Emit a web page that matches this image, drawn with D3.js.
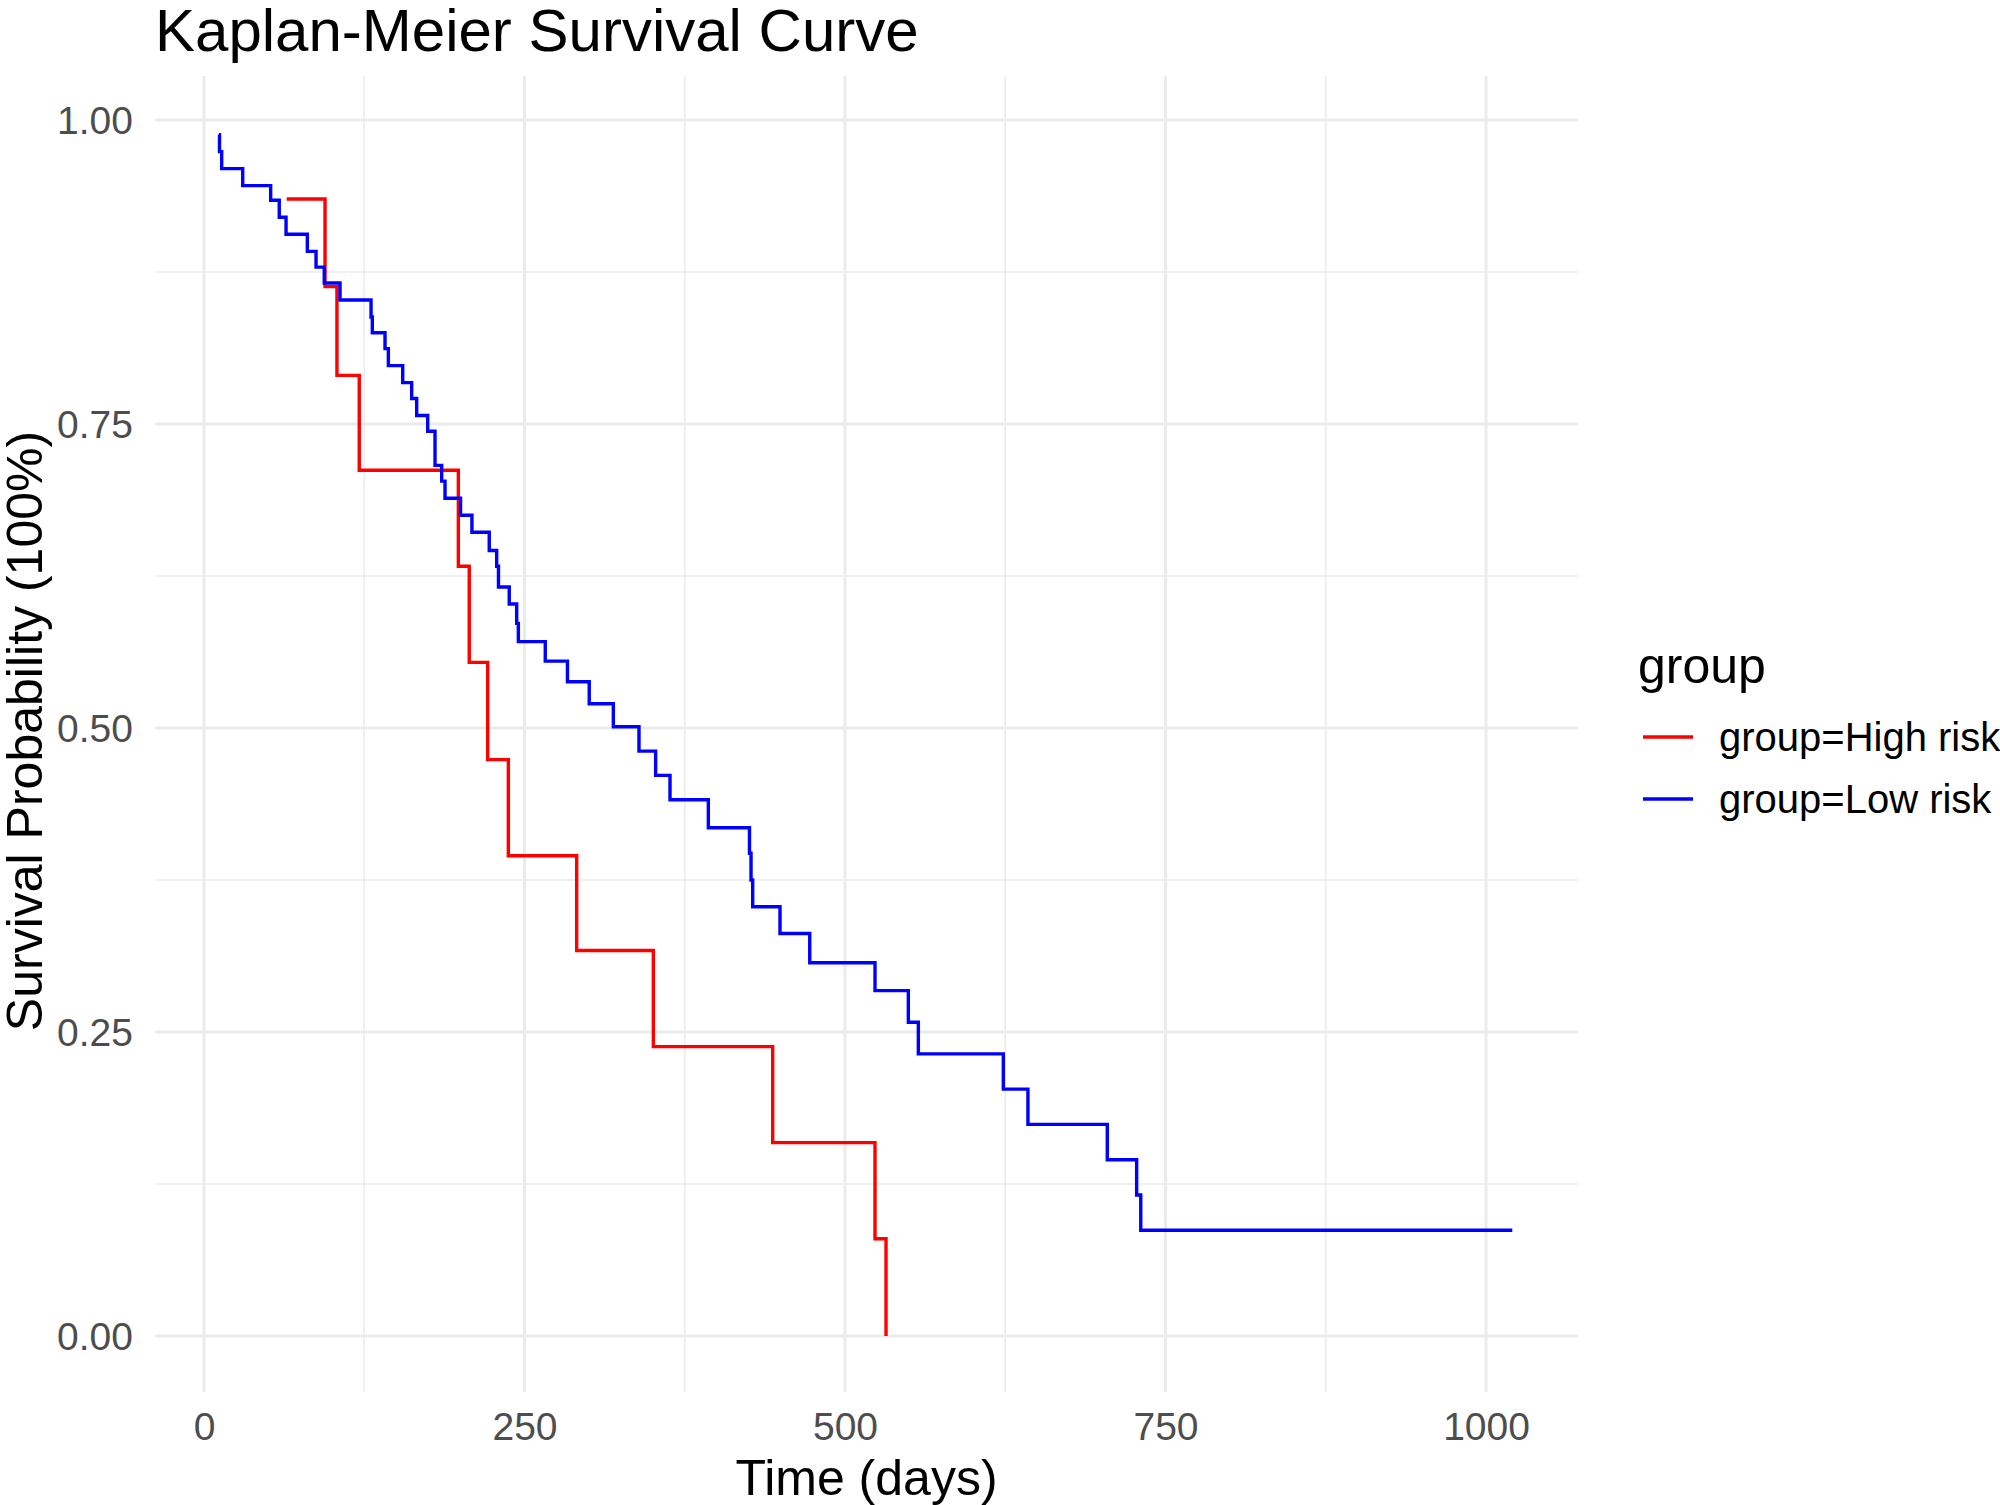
<!DOCTYPE html>
<html>
<head>
<meta charset="utf-8">
<script src="https://cdn.jsdelivr.net/npm/d3@7"></script>
<style>
  html, body { margin: 0; padding: 0; background: #ffffff; }
  svg { display: block; }
  text { font-family: "Liberation Sans", Arial, Helvetica, sans-serif; }
</style>
</head>
<body>
<svg id="chart" width="2000" height="1505"></svg>
<script>
// ---------------- data ----------------
const chartTitle = "Kaplan-Meier Survival Curve";
const xAxisTitle = "Time (days)";
const yAxisTitle = "Survival Probability (100%)";
const legendTitle = "group";
const groupNames = ["group=High risk", "group=Low risk"];
const groupColors = ["#FF0000", "#0000FF"];

const xTicks = [0, 250, 500, 750, 1000];
const xMinorTicks = [125, 375, 625, 875];
const yTicks = [0, 0.25, 0.5, 0.75, 1.0];
const yMinorTicks = [0.125, 0.375, 0.625, 0.875];

const highTime = [64.5, 94.4, 103.7, 121.1, 198.4, 206.9, 221.3, 237.4, 290.7, 350.5, 443.6, 523.4, 532.0];
const highSurv = [0.935, 0.863, 0.790, 0.712, 0.633, 0.554, 0.474, 0.395, 0.317, 0.238, 0.159, 0.080, 0.000];

const lowTime = [11.7, 12.1, 13.8, 30.2, 52.0, 58.7, 64.0, 80.6, 87.4, 93.8, 106.1, 130.3, 131.3, 141.2, 143.8, 155.0, 162.0, 165.9, 174.5, 180.2, 185.4, 188.0, 200.1, 209.0, 222.5, 228.3, 229.7, 238.1, 243.9, 245.2, 266.2, 283.5, 300.5, 319.3, 339.3, 352.3, 363.5, 393.4, 425.5, 426.7, 428.0, 449.3, 472.5, 523.4, 549.4, 557.2, 623.5, 642.7, 704.6, 727.5, 730.7, 1020.5];
const lowSurv = [0.988, 0.974, 0.960, 0.946, 0.934, 0.920, 0.906, 0.892, 0.879, 0.866, 0.852, 0.838, 0.825, 0.812, 0.798, 0.784, 0.771, 0.757, 0.744, 0.716, 0.703, 0.689, 0.675, 0.661, 0.646, 0.633, 0.616, 0.602, 0.586, 0.571, 0.555, 0.538, 0.520, 0.501, 0.481, 0.461, 0.441, 0.418, 0.397, 0.375, 0.353, 0.331, 0.307, 0.284, 0.258, 0.232, 0.203, 0.174, 0.145, 0.116, 0.087, 0.087];

// ---------------- layout ----------------
const svg = d3.select("#chart");
const panel = { left: 155, right: 1578, top: 76, bottom: 1392 };

const x = d3.scaleLinear().domain([0, 1000]).range([204, 1486]);
const y = d3.scaleLinear().domain([0, 1]).range([1336, 120]);

const gridColor = "#EBEBEB";

// minor grid
const grid = svg.append("g");
grid.selectAll("line.xminor").data(xMinorTicks).enter().append("line")
  .attr("x1", d => x(d)).attr("x2", d => x(d))
  .attr("y1", panel.top).attr("y2", panel.bottom)
  .attr("stroke", gridColor).attr("stroke-width", 1.6);
grid.selectAll("line.yminor").data(yMinorTicks).enter().append("line")
  .attr("y1", d => y(d)).attr("y2", d => y(d))
  .attr("x1", panel.left).attr("x2", panel.right)
  .attr("stroke", gridColor).attr("stroke-width", 1.6);
// major grid
grid.selectAll("line.xmajor").data(xTicks).enter().append("line")
  .attr("x1", d => x(d)).attr("x2", d => x(d))
  .attr("y1", panel.top).attr("y2", panel.bottom)
  .attr("stroke", gridColor).attr("stroke-width", 3);
grid.selectAll("line.ymajor").data(yTicks).enter().append("line")
  .attr("y1", d => y(d)).attr("y2", d => y(d))
  .attr("x1", panel.left).attr("x2", panel.right)
  .attr("stroke", gridColor).attr("stroke-width", 3);

// axes (labels only, theme_minimal style)
const xAxis = d3.axisBottom(x).tickValues(xTicks).tickSize(0).tickPadding(0)
  .tickFormat(d3.format("d"));
const gx = svg.append("g").attr("transform", `translate(0, 1412)`).call(xAxis);
gx.select(".domain").remove();
gx.selectAll("text").attr("font-size", 39).attr("fill", "#4D4D4D")
  .attr("dy", "0.71em").attr("y", 0);

const yAxis = d3.axisLeft(y).tickValues(yTicks).tickSize(0).tickPadding(0)
  .tickFormat(d3.format(".2f"));
const gy = svg.append("g").attr("transform", `translate(133, 0)`).call(yAxis);
gy.select(".domain").remove();
gy.selectAll("text").attr("font-size", 39).attr("fill", "#4D4D4D").attr("x", 0)
  .attr("dy", "0.35em");

// curves
const line = d3.line().curve(d3.curveStepAfter)
  .x(d => x(d[0])).y(d => y(d[1]));

const series = [
  d3.zip(highTime, highSurv),
  d3.zip(lowTime, lowSurv)
];
svg.append("g").selectAll("path").data(series).enter().append("path")
  .attr("d", line)
  .attr("fill", "none")
  .attr("stroke", (d, i) => groupColors[i])
  .attr("stroke-width", 3.4);

// titles
svg.append("text").attr("x", panel.left).attr("y", 51)
  .attr("font-size", 60).attr("fill", "#000").text(chartTitle);

svg.append("text").attr("x", (panel.left + panel.right) / 2).attr("y", 1495)
  .attr("text-anchor", "middle").attr("font-size", 50).attr("fill", "#000")
  .text(xAxisTitle);

svg.append("text")
  .attr("transform", `translate(42, ${(panel.top + panel.bottom) / 2 - 3}) rotate(-90)`)
  .attr("text-anchor", "middle").attr("font-size", 50).attr("fill", "#000")
  .text(yAxisTitle);

// legend
const lg = svg.append("g");
lg.append("text").attr("x", 1638).attr("y", 683).attr("font-size", 50)
  .attr("fill", "#000").text(legendTitle);
const legendRows = [737, 799];
groupNames.forEach((name, i) => {
  lg.append("line").attr("x1", 1643).attr("x2", 1693)
    .attr("y1", legendRows[i]).attr("y2", legendRows[i])
    .attr("stroke", groupColors[i]).attr("stroke-width", 3.4);
  lg.append("text").attr("x", 1719).attr("y", legendRows[i]).attr("dy", "0.35em")
    .attr("font-size", 40).attr("fill", "#000").text(name);
});
</script>
</body>
</html>
